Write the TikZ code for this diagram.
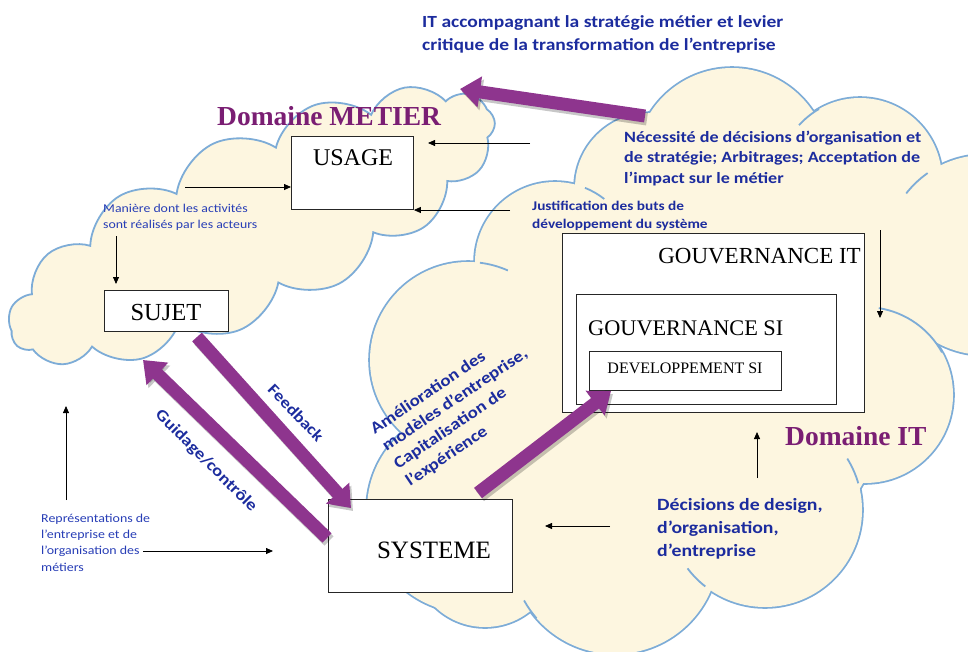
\documentclass[tikz,border=0pt]{standalone}
\usepackage{fontspec}
\usepackage{graphicx}
\setmainfont{Liberation Serif}
\newfontfamily\calib{Carlito}
\usetikzlibrary{shapes.symbols,arrows.meta}
\definecolor{cloudfill}{RGB}{253,246,224}
\definecolor{cloudline}{RGB}{125,172,215}
\definecolor{arrowpurple}{RGB}{142,53,142}
\definecolor{dompurple}{RGB}{122,30,115}
\definecolor{textblue}{RGB}{28,44,158}
\definecolor{lightblue}{RGB}{40,62,182}
\newcommand{\wx}[1]{\scalebox{1.15}[1]{#1}}
\newcommand{\itpuffs}{732/165/97, 650/188/75, 555/262/80, 468/360/98, 470/510/103, 485/555/72, 615/550/104, 765/510/97, 865/395/88, 860/180/82, 985/255/100, 900/280/60, 680/380/210}
% inner hooks: centre x / centre y / radius / start angle / end angle
\newcommand{\ithooks}{865/395/88/-81/-29, 860/180/82/-120/-138, 468/360/98/-83/-66, 615/550/104/139/151, 765/510/97/-16/-32, 765/510/97/128/143, 985/255/100/-125/-142, 555/262/80/-68/-52}
\begin{document}
\begin{tikzpicture}[x=1pt,y=-1pt,
  box/.style={draw=black!85, line width=0.9pt, fill=white, rectangle, inner sep=0pt},
  cloudsh/.style={cloud, draw=cloudline, line width=1.8pt, fill=cloudfill, cloud ignores aspect, inner sep=0pt},
  puffline/.style={draw=cloudline, line width=3.6pt},
  pufffill/.style={fill=cloudfill},
  puffhook/.style={draw=cloudline, line width=1.8pt},
  bigarrow/.style={line width=13pt, draw=arrowpurple, -{Triangle[length=20pt,width=30pt]}},
  shadowarrow/.style={line width=13pt, draw=black, opacity=0.22, -{Triangle[length=20pt,width=30pt]}},
  thinarrow/.style={draw=black, line width=0.8pt, -{Triangle[length=7pt,width=6pt]}},
  boxtext/.style={inner sep=0pt, text=black},
  bluebold/.style={inner sep=0pt, text=textblue, align=left},
  bluereg/.style={inner sep=0pt, text=lightblue, align=left},
  domtext/.style={inner sep=0pt, text=dompurple, font=\fontsize{27.5}{30}\selectfont\bfseries},
]
\useasboundingbox (0,0) rectangle (968,651);
\begin{scope}
\clip (0,0) rectangle (968,651);
% Domaine METIER cloud
\node[cloudsh, cloud puffs=15, cloud puff arc=115, minimum width=530, minimum height=182, rotate=25] (metiercloud) at (252,226) {};
% Domaine IT cloud: union of puffs
\foreach \cx/\cy/\r in \itpuffs { \path[puffline] (\cx,\cy) circle[radius=\r]; }
\foreach \cx/\cy/\r in \itpuffs { \path[pufffill] (\cx,\cy) circle[radius=\r]; }
\foreach \cx/\cy/\r/\a/\b in \ithooks { \draw[puffhook] ([shift={(\a:\r)}]\cx,\cy) arc[start angle=\a, end angle=\b, radius=\r]; }
\coordinate (itcloud) at (680,380);
\end{scope}

% boxes
\node[box, minimum width=122, minimum height=73, anchor=north west] (usage) at (291,136) {};
\node[box, minimum width=124, minimum height=41, anchor=north west] (sujet) at (104,290) {};
\node[box, minimum width=184, minimum height=93, anchor=north west] (systeme) at (328,499) {};
\node[box, minimum width=302, minimum height=179, anchor=north west] (govit) at (562,233) {};
\node[box, minimum width=260, minimum height=110, anchor=north west] (govsi) at (576,294) {};
\node[box, minimum width=192, minimum height=39, anchor=north west] (devsi) at (589,351) {};

\node[boxtext, anchor=base, font=\fontsize{24}{26}\selectfont] (usagetxt) at (353,165) {USAGE};
\node[boxtext, anchor=base, font=\fontsize{24.5}{26}\selectfont] (sujettxt) at (166,320) {SUJET};
\node[boxtext, anchor=base, font=\fontsize{25}{27}\selectfont] (systemetxt) at (434,558) {SYSTEME};
\node[boxtext, anchor=base east, font=\fontsize{23}{25}\selectfont] (govittxt) at (861,263) {GOUVERNANCE IT};
\node[boxtext, anchor=base west, font=\fontsize{22.3}{25}\selectfont] (govsitxt) at (588,335) {GOUVERNANCE SI};
\node[boxtext, anchor=base, font=\fontsize{16}{18}\selectfont] (devsitxt) at (685,373) {DEVELOPPEMENT SI};

% domain titles
\node[domtext, anchor=base west] (dommetier) at (217,125) {Domaine METIER};
\node[domtext, anchor=base west] (domit) at (785,445) {Domaine IT};

% purple arrows
\coordinate (topA) at (645,116);
\coordinate (topB) at (460,89);
\coordinate (fbA) at (197,337);
\coordinate (fbB) at (351,508);
\coordinate (guA) at (327,538);
\coordinate (guB) at (143,360);
\coordinate (amA) at (478,493);
\coordinate (amB) at (611,391);
\begin{scope}[transform canvas={shift={(2pt,-3pt)}}]
\draw[shadowarrow] (topA) -- (topB);
\draw[shadowarrow] (fbA) -- (fbB);
\draw[shadowarrow] (guA) -- (guB);
\draw[shadowarrow] (amA) -- (amB);
\end{scope}
\draw[bigarrow] (topA) -- (topB);
\draw[bigarrow] (fbA) -- (fbB);
\draw[bigarrow] (guA) -- (guB);
\draw[bigarrow] (amA) -- (amB);

% texts
\node[bluebold, anchor=base west, font=\calib\bfseries\fontsize{17}{23}\selectfont] (toptxt) at (422,50)
  {\wx{IT accompagnant la stratégie métier et levier}\\\wx{critique de la transformation de l’entreprise}};
\node[bluebold, anchor=base west, font=\calib\bfseries\fontsize{15.7}{20.5}\selectfont] (neces) at (624,183)
  {\wx{Nécessité de décisions d’organisation et}\\\wx{de stratégie; Arbitrages; Acceptation de}\\\wx{l’impact sur le métier}};
\node[bluebold, anchor=base west, font=\calib\bfseries\fontsize{13.3}{18}\selectfont] (justif) at (532,228)
  {\wx{Justification des buts de}\\\wx{développement du système}};
\node[bluebold, anchor=base west, font=\calib\bfseries\fontsize{17.2}{23}\selectfont] (decis) at (657,556)
  {\wx{Décisions de design,}\\\wx{d’organisation,}\\\wx{d’entreprise}};
\node[bluereg, anchor=base west, font=\calib\fontsize{12}{16}\selectfont] (maniere) at (103,228)
  {\wx{Manière dont les activités}\\\wx{sont réalisés par les acteurs}};
\node[bluereg, anchor=base west, font=\calib\fontsize{12.1}{16.3}\selectfont] (repres) at (41,571)
  {\wx{Représentations de}\\\wx{l’entreprise et de}\\\wx{l’organisation des}\\\wx{métiers}};
\node[bluebold, rotate=-46, font=\calib\bfseries\fontsize{16}{18}\selectfont] (feedback) at (296,413) {\wx{Feedback}};
\node[bluebold, rotate=-45, font=\calib\bfseries\fontsize{16.3}{18}\selectfont] (guidage) at (206,461) {\wx{Guidage/contrôle}};
\node[bluebold, rotate=34, font=\calib\bfseries\fontsize{16.5}{21}\selectfont] (amelio) at (461,409)
  {\wx{Amélioration des}\\\wx{modèles d’entreprise,}\\\wx{Capitalisation de}\\\wx{l’expérience}};

% thin arrows
\coordinate (m1) at (185,187);
\coordinate (m2) at (116,236);
\coordinate (m2e) at (116,284);
\coordinate (n1) at (530,143);
\coordinate (n1e) at (428,143);
\coordinate (j1) at (510,210);
\coordinate (g1) at (880,230);
\coordinate (g1e) at (880,318);
\coordinate (r1) at (66,500);
\coordinate (r1e) at (66,406);
\coordinate (r2) at (143,551);
\coordinate (r2e) at (273,551);
\coordinate (d1) at (610,526);
\coordinate (d1e) at (545,526);
\coordinate (d2) at (757,478);
\coordinate (d2e) at (757,432);
\draw[thinarrow] (m1) -- (m1 -| usage.west);
\draw[thinarrow] (m2) -- (m2e);
\draw[thinarrow] (n1) -- (n1e);
\draw[thinarrow] (j1) -- (j1 -| usage.east);
\draw[thinarrow] (g1) -- (g1e);
\draw[thinarrow] (r1) -- (r1e);
\draw[thinarrow] (r2) -- (r2e);
\draw[thinarrow] (d1) -- (d1e);
\draw[thinarrow] (d2) -- (d2e);
\end{tikzpicture}
\end{document}
